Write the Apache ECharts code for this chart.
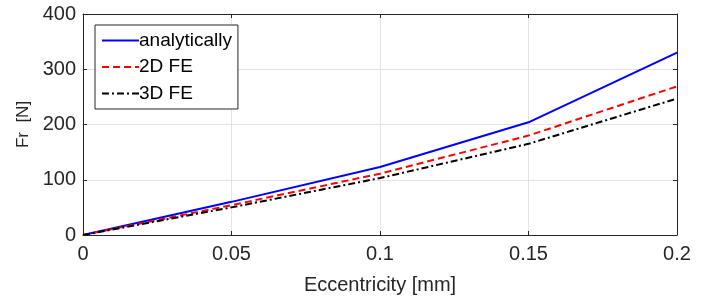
<!DOCTYPE html>
<html>
<head>
<meta charset="utf-8">
<script src="https://cdn.jsdelivr.net/npm/echarts@6/dist/echarts.min.js"></script>
<style>
  html, body { margin: 0; padding: 0; background: #fff; }
  #chart { width: 715px; height: 301px; }
</style>
</head>
<body>
<div id="chart"></div>
<script>
const eccentricity = [0, 0.05, 0.1, 0.15, 0.2];
const analytically = [0, 60, 123, 204, 330];
const fe2d = [0, 54, 111, 180, 269];
const fe3d = [0, 50, 103, 165, 247];
const seriesNames = ['analytically', '2D FE', '3D FE'];

const pairs = ys => eccentricity.map((x, i) => [x, ys[i]]);

const chart = echarts.init(document.getElementById('chart'));
const font = 'Liberation Sans, Arial, sans-serif';
const axisColor = '#262626';

const option = {
  animation: false,
  textStyle: { fontFamily: font },
  grid: { left: 83, right: 38, top: 14, bottom: 66, outerBoundsMode: 'none' },
  legend: {
    orient: 'vertical',
    left: 95,
    top: 25,
    data: seriesNames,
    backgroundColor: '#fff',
    borderColor: '#262626',
    borderWidth: 1,
    borderRadius: 0,
    padding: [6, 6, 6, 6],
    itemGap: 7.5,
    itemWidth: 37,
    itemHeight: 18,
    itemStyle: { opacity: 0 },
    textStyle: { fontSize: 19, color: '#000', fontFamily: font, padding: [0, 0, 0, -5] }
  },
  xAxis: [{
    type: 'value',
    min: 0, max: 0.2, interval: 0.05,
    name: 'Eccentricity [mm]',
    nameLocation: 'middle',
    nameGap: 40,
    nameTextStyle: { fontSize: 20, color: axisColor },
    axisLine: { lineStyle: { color: axisColor } },
    axisTick: { inside: true, length: 4, lineStyle: { color: axisColor } },
    axisLabel: { fontSize: 20, color: axisColor, margin: 9,
      formatter: v => String(+v.toFixed(2)) },
    splitLine: { show: true, lineStyle: { color: '#e3e3e3' } }
  }, {
    type: 'value', position: 'top',
    min: 0, max: 0.2, interval: 0.05,
    axisLine: { show: true, onZero: false, lineStyle: { color: axisColor } },
    axisTick: { inside: true, length: 4, lineStyle: { color: axisColor } },
    axisLabel: { show: false },
    splitLine: { show: false }
  }],
  yAxis: [{
    type: 'value',
    min: 0, max: 400, interval: 100,
    name: 'Fr  [N]',
    nameLocation: 'middle',
    nameGap: 50,
    nameTextStyle: { fontSize: 17, color: axisColor },
    axisLine: { show: true, lineStyle: { color: axisColor } },
    axisTick: { show: true, inside: true, length: 4, lineStyle: { color: axisColor } },
    axisLabel: { fontSize: 20, color: axisColor, margin: 7 },
    splitLine: { show: true, lineStyle: { color: '#e3e3e3' } }
  }, {
    type: 'value', position: 'right',
    min: 0, max: 400, interval: 100,
    axisLine: { show: true, onZero: false, lineStyle: { color: axisColor } },
    axisTick: { show: true, inside: true, length: 4, lineStyle: { color: axisColor } },
    axisLabel: { show: false },
    splitLine: { show: false }
  }],
  series: [{
    name: 'analytically',
    type: 'line',
    data: pairs(analytically),
    symbol: 'none',
    lineStyle: { color: '#0000ff', width: 2 },
    itemStyle: { color: '#0000ff' }
  }, {
    name: '2D FE',
    type: 'line',
    data: pairs(fe2d),
    symbol: 'none',
    lineStyle: { color: '#ff0000', width: 2, type: [7, 4] },
    itemStyle: { color: '#ff0000' }
  }, {
    name: '3D FE',
    type: 'line',
    data: pairs(fe3d),
    symbol: 'none',
    lineStyle: { color: '#000000', width: 2, type: [7, 3, 2, 3] },
    itemStyle: { color: '#000000' }
  }]
};

chart.setOption(option);
</script>
</body>
</html>
